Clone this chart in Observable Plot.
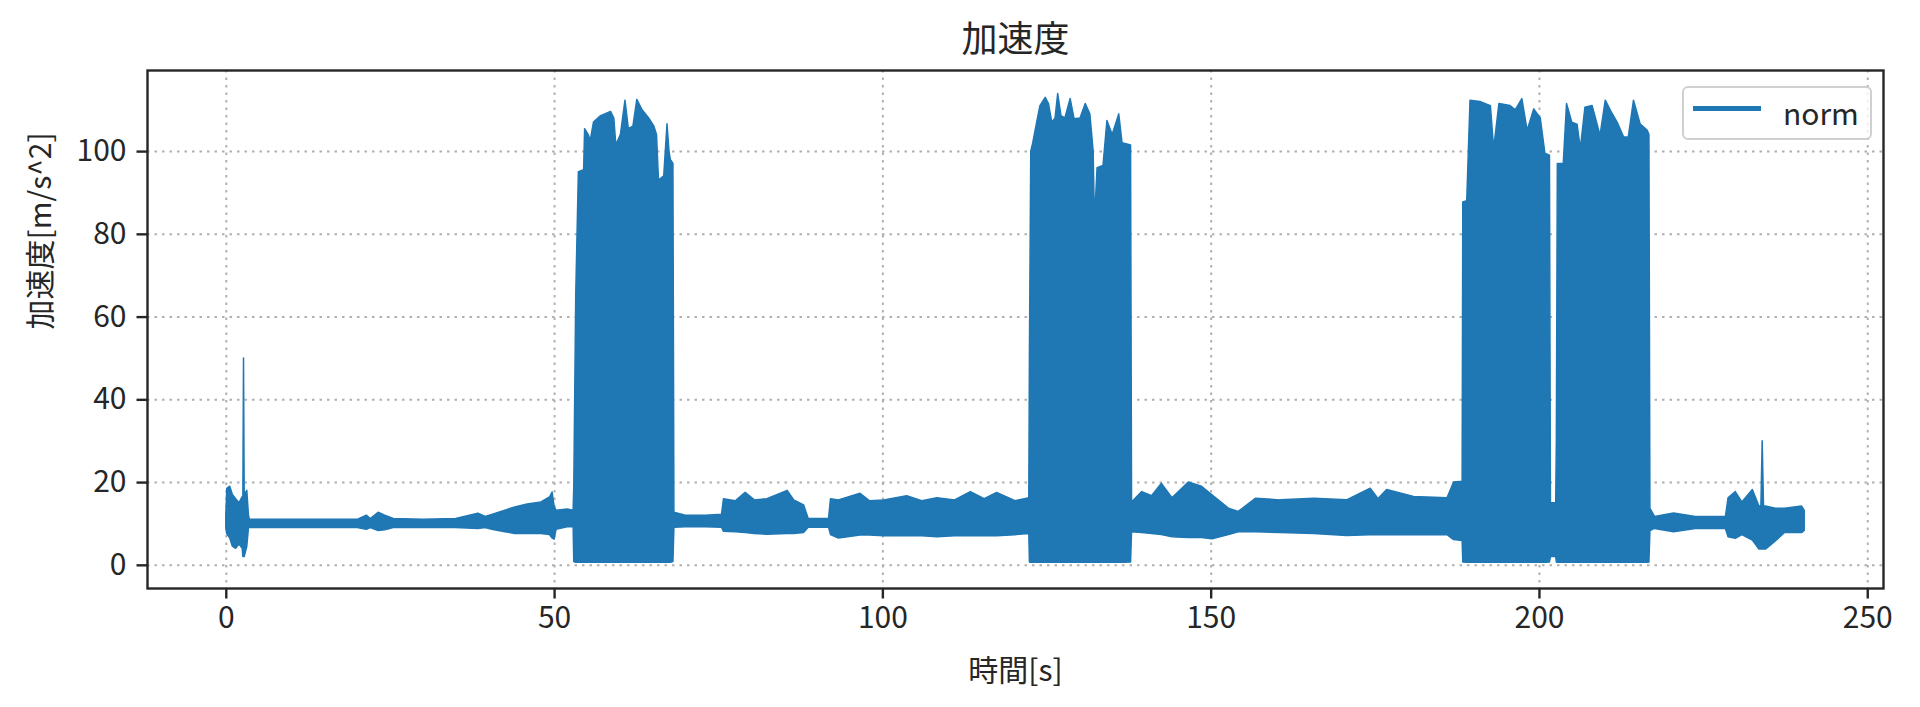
<!DOCTYPE html>
<html>
<head>
<meta charset="utf-8">
<script src="https://cdn.jsdelivr.net/npm/d3@7"></script>
<script src="https://cdn.jsdelivr.net/npm/@observablehq/plot@0.6"></script>
<style>
  body { margin: 0; background: #fff; }
  #wrap { position: relative; width: 1920px; height: 707px; }
  #legend {
    position: absolute; left: 1682px; top: 86px; width: 186px; height: 50px;
    border: 2px solid #d0d0d0; border-radius: 6px; background: rgba(255,255,255,0.8);
    font-family: "Noto Sans CJK JP", sans-serif; font-size: 30px; color: #262626;
  }
  #legend .swatch { position: absolute; left: 9px; top: 18px; width: 68px; height: 4.5px; background: #1f77b4; }
  #legend .label { position: absolute; left: 99px; top: 2px; line-height: 44px; }
</style>
</head>
<body>
<div id="wrap"></div>
<script>
// ---- data ----
const chartTitle = "加速度";
const xLabel = "時間[s]";
const yLabel = "加速度[m/s^2]";
const seriesName = "norm";
const xTicks = [0, 50, 100, 150, 200, 250];
const yTicks = [0, 20, 40, 60, 80, 100];

// time [s] and the lower / upper envelope of the dense "norm" signal [m/s^2]
const time = [
  0, 0.15, 0.6, 1.0, 1.5, 2.0, 2.5, 2.6, 2.7, 2.8, 3.2, 3.45,
  3.6, 10, 15, 20, 21.4, 22.0, 23.2, 24.2, 25.5, 30, 35, 38.4, 39.5, 40.5, 42.5, 44.0, 45.9, 48.0, 49.3, 49.7, 50.0, 50.3, 52.0, 52.9,
  53.0, 53.3, 53.7, 54.5, 54.65, 55.2, 55.5, 56.0, 57.0, 58.6, 59.1, 59.4, 60.1, 60.8, 61.3, 62.0, 62.6, 63.4, 64.4, 65.2, 65.6, 65.9, 66.7, 67.2, 67.5, 67.7, 68.1,
  68.25, 70, 73, 75.5, 75.8, 77.6, 79.1, 80.5, 82.4, 85.5, 86.5, 88.0, 88.7, 91.8, 92.1, 93.3, 96.6, 98.0, 100.2, 103.7, 106, 108.3, 111, 113.4, 115.5, 117.4, 120.2, 122.3,
  122.4, 122.6, 122.9, 123.5, 124.0, 124.8, 125.3, 125.8, 126.3, 126.7, 127.2, 127.8, 128.6, 129.2, 130.1, 130.9, 131.6, 132.1, 132.3, 132.7, 133.6, 134.2, 135.0, 136.0, 136.5, 137.8,
  137.95, 139.5, 141.0, 142.5, 144.1, 146.6, 148.6, 150.2, 152.7, 154.2, 156.8, 160.6, 165.7, 170.7, 174.3, 175.5, 176.8, 180.9, 186.0, 187.0, 188.3,
  188.4, 189.0, 189.5, 191.0, 192.6, 193.1, 193.9, 195.6, 196.4, 197.4, 198.2, 199.2, 200.2, 200.9, 201.6,
  201.75, 202.55,
  202.65, 202.8, 203.7, 204.2, 205.0, 205.8, 206.3, 207.0, 208.1, 208.6, 209.3, 210.1, 210.9, 211.9, 212.9, 213.6, 214.4, 215.4, 216.5, 216.75,
  216.9, 217.6, 220.5, 223.8, 228.4, 228.8, 229.9, 230.9, 232.5, 233.5, 233.8, 234.0, 234.2, 234.5, 236.0, 237.4, 240.0, 240.4
];
const lower = [
  9, 7.5, 6.5, 4.5, 4, 5, 4, 2, 2, 2, 4.5, 9,
  9.0, 9.0, 9.0, 9.0, 8.6, 9.0, 8.3, 8.5, 9.0, 9.0, 9.0, 8.8, 9.0, 8.6, 8.0, 7.6, 7.6, 7.6, 7.3, 6.5, 6.2, 8.6, 9.2, 9.2,
  0.8, 0.6, 0.6, 0.6, 0.6, 0.6, 0.6, 0.6, 0.6, 0.6, 0.6, 0.6, 0.6, 0.6, 0.6, 0.6, 0.6, 0.6, 0.6, 0.6, 0.6, 0.6, 0.6, 0.6, 0.6, 0.6, 0.8,
  9.1, 9.2, 9.2, 9.1, 8.1, 8.0, 7.8, 7.6, 7.4, 7.6, 7.6, 7.8, 9.1, 9.1, 7.3, 6.5, 7.2, 7.2, 7.0, 7.0, 7.0, 6.8, 7.0, 7.0, 7.1, 7.0, 7.3, 7.6,
  0.7, 0.6, 0.6, 0.6, 0.6, 0.6, 0.6, 0.6, 0.6, 0.6, 0.6, 0.6, 0.6, 0.6, 0.6, 0.6, 0.6, 0.6, 0.6, 0.6, 0.6, 0.6, 0.6, 0.6, 0.6, 0.7,
  8.0, 7.8, 7.6, 7.3, 6.8, 6.6, 6.6, 6.3, 7.3, 8.0, 8.0, 7.8, 7.6, 7.1, 7.3, 7.3, 7.3, 7.3, 7.3, 6.1, 5.9,
  0.7, 0.6, 0.6, 0.6, 0.6, 0.6, 0.6, 0.6, 0.6, 0.6, 0.6, 0.6, 0.6, 0.6, 0.7,
  2, 2,
  0.7, 0.6, 0.6, 0.6, 0.6, 0.6, 0.6, 0.6, 0.6, 0.6, 0.6, 0.6, 0.6, 0.6, 0.6, 0.6, 0.6, 0.6, 0.6, 0.7,
  8.3, 8.8, 8.0, 8.8, 8.8, 6.8, 6.4, 7.3, 6.0, 3.8, 3.8, 3.8, 3.8, 3.8, 5.8, 7.8, 7.8, 8.3
];
const upper = [
  12, 18.5, 19, 17, 16, 15, 16.5, 16.5, 50, 17, 18, 12,
  11.0, 11.0, 11.0, 11.0, 12.0, 11.2, 12.7, 12.0, 11.2, 11.0, 11.2, 12.5, 11.7, 12.2, 13.2, 14.0, 14.7, 15.2, 16.4, 17.6, 14.2, 13.2, 13.5, 13.2,
  19, 65.5, 95, 95.5, 105.4, 104, 102.5, 107, 108.5, 109.6, 108, 101.5, 104, 112.3, 105.5, 106, 112.5, 110, 108, 106, 104, 93, 94, 106.6, 100, 98, 97,
  12.7, 12.0, 12.0, 12.2, 16.0, 15.5, 17.5, 15.7, 16.0, 18.0, 15.7, 14.5, 11.2, 11.2, 16.0, 15.7, 17.3, 15.5, 15.7, 16.7, 15.5, 16.2, 15.7, 17.7, 16.0, 17.5, 15.5, 16.2,
  52, 100, 102, 107, 111, 113, 111.5, 107, 108, 113.9, 108.6, 108, 112.7, 107.8, 108, 111.5, 109, 100, 83, 96, 96.5, 107.4, 104, 109, 102, 101.5,
  15.2, 17.7, 16.7, 19.7, 16.2, 20.0, 19.0, 16.9, 13.7, 12.9, 16.1, 15.7, 16.1, 15.7, 18.5, 16.0, 18.2, 16.5, 16.2, 20.0, 20.2,
  87.7, 88, 112.3, 112, 111, 100.6, 111.5, 111, 110, 112.7, 105, 110.2, 108, 99.5, 99,
  15, 15,
  30, 97, 97, 111.5, 107, 106.5, 100.6, 110.6, 111, 108, 103.8, 112.3, 109.8, 107, 103.4, 103.4, 112.3, 106.6, 105, 104,
  13.7, 11.7, 12.5, 11.7, 11.7, 16.2, 17.7, 15.2, 18.2, 14.2, 14.2, 30, 14.2, 14.2, 13.7, 13.7, 14.2, 13.2
];

const rows = time.map((t, i) => ({t, lo: lower[i], hi: upper[i], series: seriesName}));
const lineColor = "#1f77b4";
const gridStyle = {stroke: "#b0b0b0", strokeOpacity: 1, strokeWidth: 2, strokeDasharray: "2.5,5"};

const chart = Plot.plot({
  width: 1920,
  height: 707,
  marginLeft: 147,
  marginRight: 37,
  marginTop: 70,
  marginBottom: 119,
  x: {domain: [-12, 252.4]},
  y: {domain: [-5.6, 119.6]},
  style: {fontFamily: '"Noto Sans CJK JP", sans-serif', fontSize: "30px", color: "#262626", background: "#fff"},
  marks: [
    Plot.gridX(xTicks, gridStyle),
    Plot.gridY(yTicks, gridStyle),
    Plot.areaY(rows, {x: "t", y1: "lo", y2: "hi", fill: lineColor, stroke: lineColor, strokeWidth: 1.5}),
    Plot.frame({stroke: "#262626", strokeWidth: 2.4}),
    Plot.axisX(xTicks, {tickSize: 10.5, tickPadding: 8, strokeWidth: 2.4, label: null}),
    Plot.axisY(yTicks, {tickSize: 10.5, tickPadding: 10.5, strokeWidth: 2.4, label: null}),
    Plot.text([chartTitle], {frameAnchor: "top", lineAnchor: "middle", dy: -30, fontSize: 36}),
    Plot.text([xLabel], {frameAnchor: "bottom", lineAnchor: "middle", dy: 83, fontSize: 30}),
    Plot.text([yLabel], {frameAnchor: "left", dx: -106, rotate: -90, fontSize: 30})
  ]
});

const wrap = document.getElementById("wrap");
wrap.appendChild(chart);
const legend = document.createElement("div");
legend.id = "legend";
legend.innerHTML = `<div class="swatch"></div><div class="label">${seriesName}</div>`;
wrap.appendChild(legend);
</script>
</body>
</html>
